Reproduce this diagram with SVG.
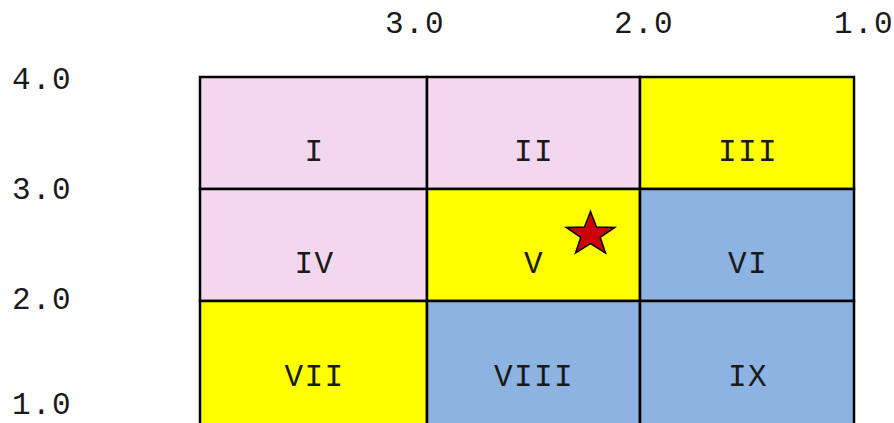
<svg xmlns="http://www.w3.org/2000/svg" width="894" height="423" viewBox="0 0 894 423">
  <style>
    .lbl { font-family: "Liberation Mono", "Courier New", monospace; font-size: 31px; letter-spacing: 1.4px; fill: #1a1a1a; }
    .cell { stroke: #000; stroke-width: 2.5; }
    .pink { fill: #F3D7EF; }
    .yellow { fill: #FFFF00; }
    .blue { fill: #8DB3E2; }
    .mid { text-anchor: middle; }
  </style>
  <rect width="894" height="423" fill="#fff"/>

  <!-- axis labels -->
  <g id="axis-top" class="lbl">
    <text x="385" y="33">3.0</text>
    <text x="614" y="33">2.0</text>
    <text x="834" y="33">1.0</text>
  </g>
  <g id="axis-left" class="lbl">
    <text x="12" y="89">4.0</text>
    <text x="12" y="199">3.0</text>
    <text x="12" y="309">2.0</text>
    <text x="12" y="414">1.0</text>
  </g>

  <!-- 3x3 grid of regions -->
  <g id="cell-I"><rect class="cell pink" x="200" y="77" width="227" height="112"/><text class="lbl mid" x="314.5" y="161">I</text></g>
  <g id="cell-II"><rect class="cell pink" x="427" y="77" width="213" height="112"/><text class="lbl mid" x="534" y="161">II</text></g>
  <g id="cell-III"><rect class="cell yellow" x="640" y="77" width="214" height="112"/><text class="lbl mid" x="748" y="161">III</text></g>

  <g id="cell-IV"><rect class="cell pink" x="200" y="189" width="227" height="112"/><text class="lbl mid" x="314.5" y="273">IV</text></g>
  <g id="cell-V"><rect class="cell yellow" x="427" y="189" width="213" height="112"/><text class="lbl mid" x="534" y="273">V</text></g>
  <g id="cell-VI"><rect class="cell blue" x="640" y="189" width="214" height="112"/><text class="lbl mid" x="748" y="273">VI</text></g>

  <g id="cell-VII"><rect class="cell yellow" x="200" y="301" width="227" height="130"/><text class="lbl mid" x="314.5" y="386">VII</text></g>
  <g id="cell-VIII"><rect class="cell blue" x="427" y="301" width="213" height="130"/><text class="lbl mid" x="534" y="386">VIII</text></g>
  <g id="cell-IX"><rect class="cell blue" x="640" y="301" width="214" height="130"/><text class="lbl mid" x="748" y="386">IX</text></g>

  <!-- marker star -->
  <g id="star">
    <polygon points="590.5,211.5 596.5,227.1 614.8,227.4 600.2,237.3 605.5,253.1 590.5,243.7 575.5,253.1 580.8,237.3 566.2,227.4 584.5,227.1" fill="#CC0000" stroke="#000" stroke-width="1.5" stroke-linejoin="miter"/>
  </g>

  <g id="connectors"/>
</svg>
